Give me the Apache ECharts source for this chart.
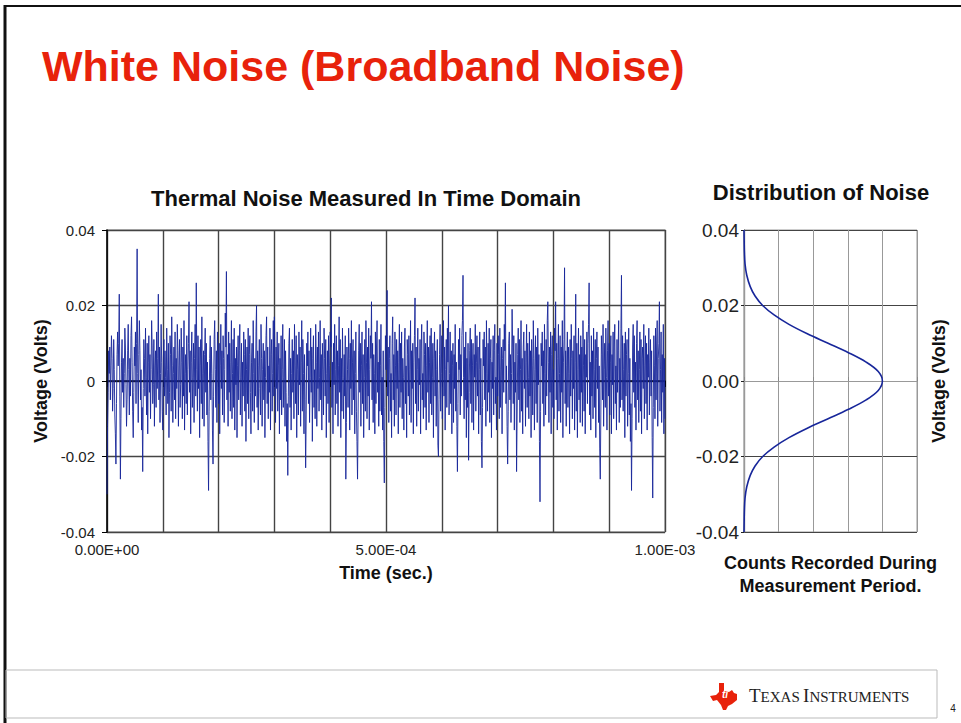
<!DOCTYPE html>
<html>
<head>
<meta charset="utf-8">
<title>White Noise (Broadband Noise)</title>
<script src="https://cdn.jsdelivr.net/npm/echarts@6/dist/echarts.min.js"></script>
<style>
  html, body { margin: 0; padding: 0; background: #fff; }
  #main { width: 961px; height: 723px; }
</style>
</head>
<body>
<div id="main"></div>
<script>
// length of the scope record in seconds
const recordLength = 1e-3;

// noise trace, millivolts left to right
const noiseMv = [
  -30, -12, -3, 8, 2, 9, -5, 4, 12, 6, -8, -2, 11, 3, -9, -14, -22, -6, 7, 13, 4, 10, 23, -4, -26,
  -10, 5, 11, -3, 6, -7, 2, 14, 9, -1, -12, -5, 8, 15, 3, -9, 6, -4, 12, 17, 5, -8, -15, -3, 9,
  4, 13, -6, 10, 35, 2, -11, 7, 16, 8, -5, 3, -13, -7, -24, -2, 11, 6, -4, 14, 1, -9, 10, -14, 5,
  12, -3, 7, -10, 3, 16, 9, -6, -1, 11, -12, 4, 8, -7, 13, -2, 6, 23, -5, 9, -11, 2, 15, 5, -8,
  -13, 6, 11, -4, 8, 1, -9, 14, 3, -6, 10, -15, -3, 12, 7, -8, 17, 4, -11, 2, 9, -5, 13, -10, 6,
  -2, 15, 8, -12, 4, 11, -7, -1, 14, 5, -10, 9, -4, 16, -13, 2, 7, -6, 12, -9, 3, 10, 21, -3, 8,
  -14, 5, 13, -7, 1, 10, -11, 6, 15, -4, 26, 3, -8, 12, -2, 9, -15, 4, 11, -6, 17, -10, 2, 8, -12,
  7, 14, -3, 10, -9, 5, -16, -29, -8, 6, 12, -5, 9, 2, -13, -22, -4, 11, 16, 3, -7, 8, -11, 13, 1,
  -6, 10, -14, 4, 15, -2, 8, -9, 12, 6, -11, 3, 18, 9, 29, -5, 7, -12, 13, -3, 10, -8, 5, 16, -10,
  2, 11, -7, 14, -13, 6, -1, 9, -15, 4, 12, -5, 8, 15, -9, 1, 10, -12, 5, -4, 13, 7, -8, 11, -16,
  3, 9, -6, 14, -10, 7, 12, -3, -14, 5, 10, -8, 16, 2, -11, 6, -4, 13, 20, -7, 8, -13, 4, 11, -2,
  -9, 15, 6, -12, 3, 10, -5, 8, -15, 1, 12, 17, -6, 9, -10, 4, -3, 14, -13, 7, 11, -8, 2, 16, -4,
  17, 5, -11, 9, -2, 13, -8, 4, 10, -14, 6, -5, 12, -9, 3, 15, -7, 1, 11, -12, 8, -3, -16, -6, -25,
  -4, 10, 14, -7, 6, -13, 2, 11, -3, 8, -10, 15, 4, -6, 12, -15, 7, 3, -9, 13, -1, 9, -12, 5, 16,
  -8, 11, 2, -14, 7, -5, -23, -9, 10, 4, 13, -6, 8, -11, 1, 14, -3, 9, -16, 6, 12, -7, 3, -10, 15,
  5, -12, 9, -2, 13, -8, 1, 16, -5, 7, -13, 10, 3, -9, 14, 6, -4, 11, -15, 2, 8, -6, 12, -11, 4,
  13, 9, 22, -7, 5, -14, 10, -1, 15, -9, 3, 12, -6, 8, -12, 4, 17, -3, 11, -15, 6, -8, 14, 1, -10,
  7, -4, 12, -26, -11, 9, 3, -7, 14, 6, -13, 10, -2, 16, -9, 5, 11, -5, 8, -14, 2, 13, -8, -16, -26,
  -9, 8, 15, -3, 10, -12, 4, 13, -6, 7, -15, 1, 11, -8, 16, 5, -10, 9, -4, 14, -13, 3, 12, 6, 21,
  -5, 10, -11, 7, 2, -14, 13, -6, 9, 16, -3, 5, -12, 11, -8, 4, 15, -9, 1, -13, 8, -16, -27, -7, 12,
  3, 14, 24, -4, 9, -11, 6, 12, -8, 2, -15, 10, 17, -5, 7, -12, 13, 4, -9, 11, -2, 8, -14, 5, 15,
  -7, 10, -3, 13, -10, 6, 1, -13, 9, 14, -6, 4, -15, 11, 7, -4, 12, -9, 3, 16, -11, 8, -2, 10, -14,
  5, 12, 22, -6, 9, -12, 3, 14, -8, 6, -1, 11, -14, 8, 15, -5, 2, -10, 13, 7, -7, 10, -13, 4, 16,
  -3, 9, -11, 5, 12, -6, 14, -9, 1, 10, -15, 6, 13, -4, 8, -12, 3, 11, -17, -20, -5, 7, 15, -8, 2,
  12, -10, 6, 16, -4, 9, -13, 3, 11, -7, 14, 5, 20, -9, 2, 13, -6, 8, -14, 4, 10, -11, 7, -2, 15,
  -8, 5, -12, -24, -6, 11, 3, 14, -9, 7, -4, 12, 16, 28, 1, -10, 9, -5, 13, -15, 6, -7, 10, -21, -3,
  8, 14, -6, 11, -11, 4, 10, -13, 7, 1, 15, -8, 5, 12, -4, 9, -14, 3, 13, -9, 6, -16, -23, -7, 11,
  4, 13, -5, 9, -12, 16, 2, -8, 10, -3, 14, -11, 6, 11, -15, 5, -2, 12, -9, 8, 15, -6, 1, -13, 10,
  -4, 12, 7, -10, 14, -7, 3, 9, -14, 6, 11, -3, 15, 8, 26, -6, 4, -12, -22, -8, 10, 13, -5, 7, -11,
  2, 19, 9, -6, 12, -13, 5, -3, 10, -24, -9, 7, 14, -5, 11, -11, 3, 16, -8, 6, -14, 9, 13, -2, 8,
  -12, 5, 15, -7, 10, 1, -10, 13, -4, 8, -15, 11, 4, -9, 16, 6, -13, 3, 12, -6, 9, -11, 14, -1, 7,
  -16, -32, -8, 10, 4, 13, -6, 8, -12, 15, 2, -9, 11, -4, 16, 21, 5, -11, 9, -3, 13, -14, 7, 12, -7,
  3, -10, 14, 8, 21, -5, 10, -13, 6, 15, -8, 2, 12, -11, 9, -3, 16, -15, 5, 11, 30, -6, 8, -12, 4,
  13, -7, 9, 2, -14, 11, -4, 15, 6, -10, 8, -2, 12, -13, 5, 23, -8, 10, -15, 3, 14, -5, 7, -11, 12,
  -3, 9, -12, 16, 4, -8, 11, -14, 7, 1, 13, -6, 10, 15, 26, -9, 5, -13, 12, -4, 8, -10, 14, 3, -7,
  11, -15, 6, 13, -2, 9, -11, 4, -18, -26, -9, 12, 7, -5, 15, -12, 3, 10, -7, 14, 1, -13, 8, 16, -4,
  10, -9, 5, 12, -14, 7, -1, 13, -10, 9, 15, -6, 4, -13, 11, -3, 8, 16, -11, 6, -7, 14, 28, -5, 12,
  -8, 3, 10, -15, 13, -4, 7, 11, -12, 2, 14, -9, 6, -16, -6, -29, -10, 9, 15, -3, 12, -7, 5, -13, 10,
  16, -5, 8, -11, 3, 13, -8, 11, -14, 6, 9, -2, 15, -10, 4, 12, -6, 10, -13, 7, 1, 14, -9, 5, 11,
  -4, 8, -15, -31, -7, 12, 4, -10, 14, -5, 9, 16, -12, 6, 10, 21, -8, 3, 13, -11, 7, -3, 15, -14, 6,
  -10
];

// distribution curve: voltage level vs counts
const distVolts = [0.04, 0.037, 0.034, 0.031, 0.028, 0.025, 0.0225, 0.02, 0.0175, 0.015, 0.0125, 0.01, 0.0075, 0.005, 0.0025, 0,
  -0.0025, -0.005, -0.0075, -0.01, -0.0125, -0.015, -0.0175, -0.02, -0.0225, -0.025, -0.028, -0.031, -0.034, -0.037, -0.04];
const distCounts = [0, 0.005, 0.012, 0.03, 0.08, 0.18, 0.32, 0.54, 0.87, 1.30, 1.83, 2.43, 3.02, 3.53, 3.88, 4.0,
  3.88, 3.53, 3.02, 2.43, 1.83, 1.30, 0.87, 0.54, 0.32, 0.18, 0.08, 0.03, 0.012, 0.005, 0];

const timeLabels = ['0.00E+00', '5.00E-04', '1.00E-03'];

const FONT = '"Liberation Sans", Arial, sans-serif';
const BLUE = '#17269a';

const timeStep = recordLength / (noiseMv.length - 1);

const chart = echarts.init(document.getElementById('main'), null, { renderer: 'svg' });

const option = {
  backgroundColor: '#fff',
  animation: false,
  textStyle: { fontFamily: FONT },
  grid: [
    { left: 107, top: 230, width: 558, height: 302, show: true, borderColor: '#aaa', borderWidth: 1.5, backgroundColor: 'transparent' },
    { left: 744, top: 230, width: 173, height: 302, show: true, borderColor: '#999', borderWidth: 1, backgroundColor: 'transparent' }
  ],
  xAxis: [
    {
      gridIndex: 0, type: 'value', min: 0, max: 0.001, interval: 0.0001,
      name: 'Time (sec.)', nameLocation: 'middle', nameGap: 32,
      nameTextStyle: { fontSize: 18, fontWeight: 'bold', color: '#111' },
      axisLine: { lineStyle: { color: '#000', width: 1.5 } },
      axisTick: { show: true, length: 6, lineStyle: { color: '#000' } },
      axisLabel: {
        fontSize: 15, color: '#222', margin: 10, interval: 0, showMinLabel: true, showMaxLabel: true,
        formatter: (v) => {
          const k = Math.round(v / 0.0005);
          return Math.abs(v / 0.0005 - k) < 1e-6 ? timeLabels[k] : '';
        }
      },
      splitLine: { show: true, lineStyle: { color: '#444', width: 1.4 } }
    },
    {
      gridIndex: 1, type: 'value', min: 0, max: 5, interval: 1, position: 'top',
      axisLine: { show: true, lineStyle: { color: '#888', width: 1 } },
      axisTick: { show: true, length: 4, lineStyle: { color: '#888' } },
      axisLabel: { show: false },
      splitLine: { show: true, lineStyle: { color: '#999', width: 1 } }
    },
    {
      gridIndex: 1, type: 'value', min: 0, max: 5, interval: 1, position: 'bottom',
      name: 'Counts Recorded During\nMeasurement Period.', nameLocation: 'middle', nameGap: 19,
      nameTextStyle: { fontSize: 18, fontWeight: 'bold', color: '#111', lineHeight: 23 },
      axisLine: { show: true, lineStyle: { color: '#999', width: 1 } },
      axisTick: { show: false },
      axisLabel: { show: false },
      splitLine: { show: false }
    }
  ],
  yAxis: [
    {
      gridIndex: 0, type: 'value', min: -0.04, max: 0.04, interval: 0.02,
      name: 'Voltage (Volts)', nameLocation: 'middle', nameGap: 47, nameRotate: 90,
      nameTextStyle: { fontSize: 18, fontWeight: 'bold', color: '#111' },
      axisLine: { show: true, lineStyle: { color: '#000', width: 1.5 } },
      axisTick: { show: true, length: 5, lineStyle: { color: '#000' } },
      axisLabel: { fontSize: 15, color: '#222', margin: 12, formatter: (v) => (v === 0 ? '0' : v.toFixed(2)) },
      splitLine: { show: true, lineStyle: { color: '#444', width: 1.4 } }
    },
    {
      gridIndex: 1, type: 'value', min: -0.04, max: 0.04, interval: 0.02,
      axisLine: { show: true, lineStyle: { color: '#222', width: 1.2 } },
      axisTick: { show: true, length: 3, lineStyle: { color: '#222' } },
      axisLabel: { fontSize: 19, color: '#222', margin: 5, formatter: (v) => v.toFixed(2) },
      splitLine: { show: true, lineStyle: { color: '#444', width: 1 } }
    },
    {
      gridIndex: 1, type: 'value', min: -0.04, max: 0.04, interval: 0.02, position: 'right',
      name: 'Voltage (Volts)', nameLocation: 'middle', nameGap: 13, nameRotate: 90,
      nameTextStyle: { fontSize: 18, fontWeight: 'bold', color: '#111' },
      axisLine: { show: true, lineStyle: { color: '#999', width: 1 } },
      axisTick: { show: false },
      axisLabel: { show: false },
      splitLine: { show: false }
    }
  ],
  series: [
    {
      name: 'Thermal noise', type: 'line', xAxisIndex: 0, yAxisIndex: 0,
      showSymbol: false, symbol: 'none',
      lineStyle: { color: BLUE, width: 0.9 },
      data: noiseMv.map((mv, i) => [i * timeStep, mv / 1000])
    },
    {
      name: 'Distribution', type: 'line', xAxisIndex: 1, yAxisIndex: 1,
      showSymbol: false, symbol: 'none', smooth: 0.35,
      lineStyle: { color: BLUE, width: 1.6 },
      data: distCounts.map((c, i) => [c, distVolts[i]])
    }
  ],
  graphic: [
    // slide frame
    { type: 'line', shape: { x1: 4, y1: 6, x2: 961, y2: 6 }, style: { stroke: '#111', lineWidth: 2 } },
    { type: 'line', shape: { x1: 5, y1: 5, x2: 5, y2: 723 }, style: { stroke: '#111', lineWidth: 3 } },
    // footer box
    { type: 'rect', shape: { x: 6, y: 670, width: 931, height: 48 }, style: { fill: 'none', stroke: '#bbb', lineWidth: 1 } },
    // slide title
    { type: 'text', x: 42, y: 66, style: { text: 'White Noise (Broadband Noise)', fill: '#e8220b', font: 'bold 43px ' + FONT, textVerticalAlign: 'middle' } },
    // chart titles
    { type: 'text', x: 366, y: 198, style: { text: 'Thermal Noise Measured In Time Domain', fill: '#111', font: 'bold 22px ' + FONT, textAlign: 'center', textVerticalAlign: 'middle' } },
    { type: 'text', x: 821, y: 192, style: { text: 'Distribution of Noise', fill: '#111', font: 'bold 22px ' + FONT, textAlign: 'center', textVerticalAlign: 'middle' } },
    // TI logo
    {
      type: 'polygon', x: 710, y: 683,
      shape: { points: [[9, 0], [14, 0], [14, 8], [19, 9], [22, 7], [24, 10], [27, 11], [27, 17], [22, 21], [18, 23], [16, 27], [13, 27], [11, 22], [7, 17], [3, 18], [0, 13], [6, 12], [9, 9]] },
      style: { fill: '#e8220b' }
    },
    { type: 'text', x: 722, y: 689, style: { text: 'ti', fill: '#fff', font: 'bold italic 10px ' + FONT } },
    {
      type: 'text', x: 749, y: 695,
      style: {
        text: '{b|T}{s|EXAS} {b|I}{s|NSTRUMENTS}',
        textVerticalAlign: 'middle',
        rich: {
          b: { fontFamily: '"Liberation Serif", serif', fontSize: 19, fill: '#222', verticalAlign: 'bottom' },
          s: { fontFamily: '"Liberation Serif", serif', fontSize: 15, fill: '#222', verticalAlign: 'bottom' }
        }
      }
    },
    // page number
    { type: 'text', x: 953, y: 708, style: { text: '4', fill: '#222', font: '10px ' + FONT, textAlign: 'center', textVerticalAlign: 'middle' } }
  ]
};

chart.setOption(option);
</script>
</body>
</html>
